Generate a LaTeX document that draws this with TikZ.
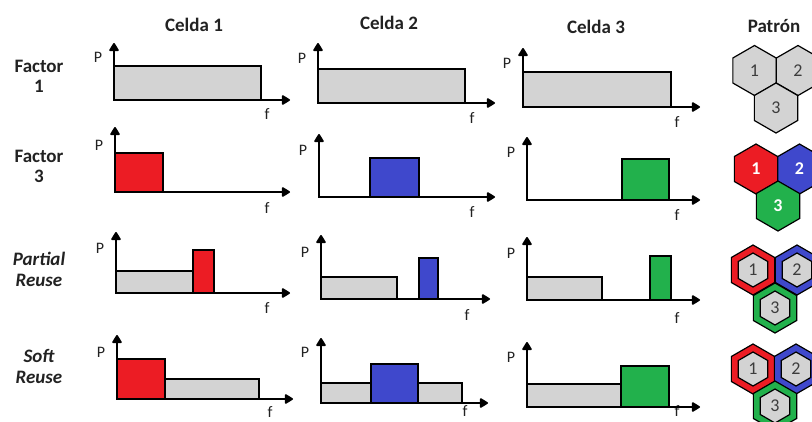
\documentclass[tikz,border=0pt]{standalone}
\usepackage{fontspec}
\setmainfont{Carlito}
\usetikzlibrary{arrows.meta,shapes.geometric}
\definecolor{cred}{RGB}{236,28,36}
\definecolor{cblue}{RGB}{63,72,204}
\definecolor{cgreen}{RGB}{34,177,76}
\definecolor{cgray}{RGB}{211,211,211}
\definecolor{htext}{RGB}{60,60,60}
\definecolor{ltext}{RGB}{34,34,34}
\newcommand\mychart[7]{%
  \coordinate (#1o) at (#2,#3);
  \coordinate (#1t) at (#2,#4);
  \coordinate (#1e) at (#5,#3);
  \node[axlab] (#1P) at (#2-16,#6) {P};
  \node[axlab] (#1f) at (#5-23,#7) {f};
}
\newcommand\myaxes[1]{\draw[axis] (#1t) -- (#1o) -- (#1e);}
\begin{document}
\begin{tikzpicture}[x=1pt,y=-1pt,
  axis/.style={line width=1.8pt, line join=miter, {Triangle[round,width=10.5pt,length=9pt]}-{Triangle[round,width=10.5pt,length=9pt]}},
  bar/.style={draw=black, line width=1.3pt},
  axlab/.style={font=\fontsize{16}{16}\selectfont, text=ltext, inner sep=0pt},
  head/.style={font=\fontsize{19}{19}\selectfont\bfseries, text=ltext, inner sep=0pt},
  rowlab/.style={font=\fontsize{19}{20}\selectfont\bfseries, text=ltext, align=center, inner sep=0pt},
  rowlabi/.style={font=\fontsize{19}{21}\selectfont\bfseries\itshape, text=ltext, align=center, inner sep=0pt},
  hexa/.style={regular polygon, regular polygon sides=6, shape border rotate=30, inner sep=0pt, outer sep=0pt, minimum size=50pt, draw=black, line width=1.2pt},
  hexin/.style={regular polygon, regular polygon sides=6, shape border rotate=30, inner sep=0pt, outer sep=0pt, minimum size=34pt, draw=black, line width=1.2pt, fill=cgray, font=\fontsize{18}{18}\selectfont, text=htext},
  hnum/.style={font=\fontsize{18}{18}\selectfont, text=htext},
  hnumw/.style={font=\fontsize{18}{18}\selectfont\bfseries, text=white}
]
\clip (0,0) rectangle (812,421);
\fill[white] (0,0) rectangle (812,421);

% headers
\node[head] (c1) at (194,25) {Celda 1};
\node[head] (c2) at (389,23) {Celda 2};
\node[head] (c3) at (596,27) {Celda 3};
\node[head] (pat) at (774,26) {Patrón};

% row labels
\node[rowlab] (r1) at (39,76) {Factor\\1};
\node[rowlab] (r2) at (39,166) {Factor\\3};
\node[rowlabi] (r3) at (39,269) {Partial\\Reuse};
\node[rowlabi] (r4) at (39,366) {Soft\\Reuse};

% ---- row 1
\mychart{a}{114}{100}{43}{290}{57}{114}
\draw[bar, fill=cgray] (114,66) rectangle (261,100);
\myaxes{a}
\mychart{b}{318}{103}{43}{495}{58}{118}
\draw[bar, fill=cgray] (318,69) rectangle (465,103);
\myaxes{b}
\mychart{c}{523}{107}{48}{700}{63}{122}
\draw[bar, fill=cgray] (523,72) rectangle (671,107);
\myaxes{c}

% ---- row 2
\mychart{d}{115}{192}{127}{290}{145}{208}
\draw[bar, fill=cred] (115,153) rectangle (163,192);
\myaxes{d}
\mychart{e}{319}{197}{134}{495}{150}{212}
\draw[bar, fill=cblue] (370,158) rectangle (419,197);
\myaxes{e}
\mychart{g}{527}{200}{137}{700}{152}{215}
\draw[bar, fill=cgreen] (622,159) rectangle (669,200);
\myaxes{g}

% ---- row 3
\mychart{h}{116}{293}{232}{290}{248}{308}
\draw[bar, fill=cgray] (116,271) rectangle (193,293);
\draw[bar, fill=cred] (193,250) rectangle (214,293);
\myaxes{h}
\mychart{i}{321}{299}{235}{490}{252}{315}
\draw[bar, fill=cgray] (321,277) rectangle (397,299);
\draw[bar, fill=cblue] (419,258) rectangle (438,299);
\myaxes{i}
\mychart{j}{527}{300}{237}{700}{253}{318}
\draw[bar, fill=cgray] (527,277) rectangle (602,300);
\draw[bar, fill=cgreen] (650,256) rectangle (671,300);
\myaxes{j}

% ---- row 4
\mychart{k}{117}{399}{335}{293}{352}{412}
\draw[bar, fill=cred] (117,359) rectangle (165,399);
\draw[bar, fill=cgray] (165,379) rectangle (259,399);
\myaxes{k}
\mychart{l}{321}{403}{338}{488}{352}{411}
\draw[bar, fill=cgray] (321,383) rectangle (371,403);
\draw[bar, fill=cblue] (371,364) rectangle (418,403);
\draw[bar, fill=cgray] (418,383) rectangle (462,403);
\myaxes{l}
\mychart{m}{527}{407}{342}{700}{357}{411}
\draw[bar, fill=cgray] (527,384) rectangle (621,407);
\draw[bar, fill=cgreen] (621,366) rectangle (669,407);
\myaxes{m}

% ---- patterns
\node[hexa, fill=cgray, hnum] (p11) at (754.5,70.5) {1};
\node[hexa, fill=cgray, hnum] (p12) at (798,70.5) {2};
\node[hexa, fill=cgray, hnum] (p13) at (776,108) {3};

\node[hexa, fill=cred, hnumw] (p21) at (756,169) {1};
\node[hexa, fill=cblue, hnumw] (p22) at (799.5,169) {2};
\node[hexa, fill=cgreen, hnumw] (p23) at (778,206) {3};

\node[hexa, fill=cred] (p31o) at (753,270) {};
\node[hexin] (p31) at (753,270) {1};
\node[hexa, fill=cblue] (p32o) at (797,270) {};
\node[hexin] (p32) at (797,270) {2};
\node[hexa, fill=cgreen] (p33o) at (775,308) {};
\node[hexin] (p33) at (775,308) {3};

\node[hexa, fill=cred] (p41o) at (753,369) {};
\node[hexin] (p41) at (753,369) {1};
\node[hexa, fill=cblue] (p42o) at (796,369) {};
\node[hexin] (p42) at (796,369) {2};
\node[hexa, fill=cgreen] (p43o) at (775,406) {};
\node[hexin] (p43) at (775,406) {3};
\end{tikzpicture}
\end{document}
